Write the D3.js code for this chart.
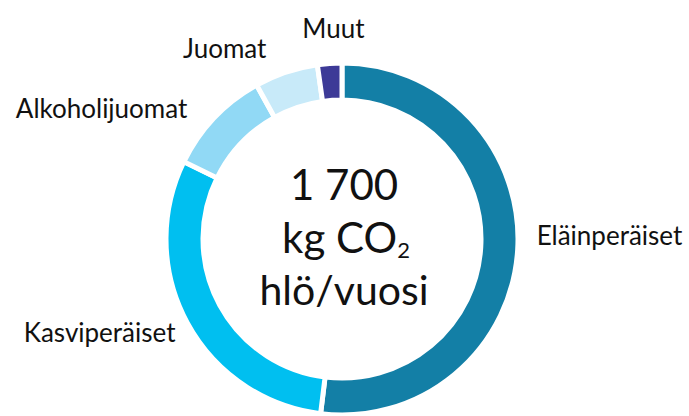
<!DOCTYPE html>
<html>
<head>
<meta charset="utf-8">
<script src="https://cdn.jsdelivr.net/npm/d3@7"></script>
<style>
  html, body { margin: 0; padding: 0; background: #fff; }
  svg { display: block; }
</style>
</head>
<body>
<svg id="chart"></svg>
<script>
// categories + their share of the 1 700 kg total
const categories = ["Eläinperäiset", "Kasviperäiset", "Alkoholijuomat", "Juomat", "Muut"];
const values     = [883, 515, 165, 99, 38];
const colors     = ["#137fa6", "#00bff0", "#91d9f5", "#c8eaf9", "#3d3a97"];
const centerLines = ["1 700", "kg CO", "hlö/vuosi"];

const W = 689, H = 416;
const cx = 342, cy = 239;
const outerR = 176, innerR = 139;

// label nudges (layout only)
const labelNudge = {
    "Eläinperäiset":  [1, -15, "start"],
    "Kasviperäiset":  [4, 1, "end"],
    "Alkoholijuomat": [-14, 3, "end"],
    "Juomat":         [-14, -6, "end"],
    "Muut":           [5, -17, "middle"]
};

const FONT = "Lato, 'Open Sans', sans-serif";

const data = categories.map((c, i) => ({name: c, value: values[i], color: colors[i]}));

const svg = d3.select("#chart")
    .attr("width", W)
    .attr("height", H)
    .attr("viewBox", [0, 0, W, H]);

const pie = d3.pie().sort(null).value(d => d.value);
const arc = d3.arc().innerRadius(innerR).outerRadius(outerR);
const labelArc = d3.arc().innerRadius(outerR + 18).outerRadius(outerR + 18);

const g = svg.append("g").attr("transform", `translate(${cx},${cy})`);

const arcs = pie(data);

g.selectAll("path")
    .data(arcs)
    .join("path")
    .attr("d", arc)
    .attr("fill", d => d.data.color)
    .attr("stroke", "#fff")
    .attr("stroke-width", 5);

g.selectAll("text.lbl")
    .data(arcs)
    .join("text")
    .attr("class", "lbl")
    .attr("transform", d => {
        const [x, y] = labelArc.centroid(d);
        const n = labelNudge[d.data.name];
        return `translate(${x + n[0]},${y + n[1]})`;
    })
    .attr("dy", "0.35em")
    .attr("text-anchor", d => labelNudge[d.data.name][2])
    .style("font-family", FONT)
    .style("font-size", "26px")
    .style("fill", "#111")
    .text(d => d.data.name);

// center text
const ct = g.append("g")
    .style("font-family", FONT)
    .style("font-size", "42px")
    .style("fill", "#111")
    .attr("text-anchor", "middle");

ct.append("text").attr("x", 2).attr("y", -39).text(centerLines[0]);

const l2 = ct.append("text").attr("x", 4).attr("y", 14);
l2.append("tspan").text(centerLines[1]);
l2.append("tspan").attr("dy", 5).style("font-size", "22px").text("2");

ct.append("text").attr("x", 2).attr("y", 66).style("font-size", "41px").text(centerLines[2]);
</script>
</body>
</html>
